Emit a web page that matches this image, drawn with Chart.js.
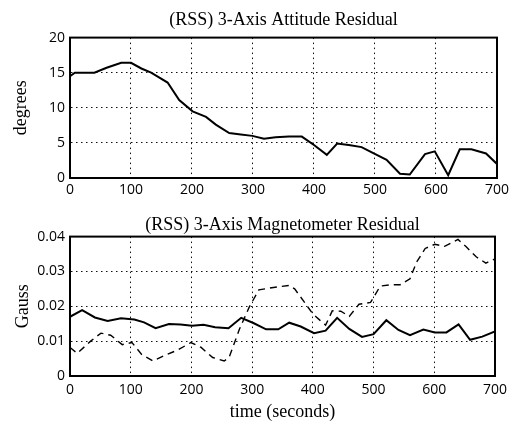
<!DOCTYPE html>
<html>
<head>
<meta charset="utf-8">
<title>RSS Residuals</title>
<script src="https://cdn.jsdelivr.net/npm/chart.js@4.4.1/dist/chart.umd.min.js"></script>
<style>
  html, body { margin: 0; padding: 0; background: #fff; }
  #wrap { position: relative; width: 513px; height: 428px; background: #fff; }
  canvas { position: absolute; left: 0; }
  #attitude { top: 0; }
  #magneto { top: 200px; }
</style>
</head>
<body>
<div id="wrap">
  <canvas id="attitude" width="513" height="200"></canvas>
  <canvas id="magneto" width="513" height="228"></canvas>
</div>
<script>
// Attitude residual (degrees) versus time (seconds)
const attitudeTime = [0, 8, 40, 60, 84, 100, 117, 133, 160, 179, 201, 223, 239, 261, 280, 299, 318, 337, 359, 380, 400, 421, 438, 457, 478, 498, 519, 541, 557, 582, 598, 620, 639, 658, 682, 700];
const attitudeDeg  = [14.5, 15.0, 15.0, 15.7, 16.4, 16.4, 15.6, 15.0, 13.6, 11.1, 9.5, 8.7, 7.6, 6.4, 6.2, 6.0, 5.6, 5.8, 5.9, 5.9, 4.7, 3.3, 4.9, 4.7, 4.4, 3.5, 2.6, 0.6, 0.5, 3.4, 3.8, 0.4, 4.1, 4.1, 3.5, 2.0];

// Magnetometer residual (Gauss), solid trace
const magSolidTime  = [0, 20, 41, 62, 84, 106, 122, 141, 163, 182, 201, 220, 239, 261, 282, 302, 323, 343, 361, 380, 402, 421, 440, 460, 481, 500, 521, 541, 560, 582, 601, 620, 640, 659, 679, 700];
const magSolidGauss = [0.0170, 0.0189, 0.0168, 0.0158, 0.0166, 0.0162, 0.0154, 0.0137, 0.0149, 0.0148, 0.0144, 0.0147, 0.0140, 0.0137, 0.0167, 0.0152, 0.0134, 0.0134, 0.0153, 0.0142, 0.0123, 0.0130, 0.0167, 0.0135, 0.0112, 0.0120, 0.0160, 0.0132, 0.0117, 0.0133, 0.0125, 0.0125, 0.0148, 0.0104, 0.0113, 0.0128];

// Magnetometer residual (Gauss), dashed trace
const magDashTime  = [0, 12, 34, 51, 67, 86, 102, 118, 137, 156, 178, 199, 216, 235, 254, 262, 279, 295, 311, 335, 361, 370, 386, 400, 411, 421, 432, 446, 460, 476, 495, 511, 530, 544, 560, 571, 585, 601, 617, 639, 653, 669, 685, 700];
const magDashGauss = [0.0082, 0.0065, 0.0100, 0.0123, 0.0117, 0.0090, 0.0096, 0.0062, 0.0043, 0.0059, 0.0075, 0.0096, 0.0082, 0.0053, 0.0043, 0.0053, 0.0134, 0.0197, 0.0247, 0.0254, 0.0260, 0.0250, 0.0212, 0.0178, 0.0161, 0.0146, 0.0187, 0.0186, 0.0171, 0.0206, 0.0211, 0.0258, 0.0262, 0.0262, 0.0279, 0.0327, 0.0366, 0.0378, 0.0372, 0.0392, 0.0370, 0.0342, 0.0324, 0.0336];

const timeTicks = [0, 100, 200, 300, 400, 500, 600, 700];
const degreeTicks = [0, 5, 10, 15, 20];
const gaussTicks = [0, 0.01, 0.02, 0.03, 0.04];

const SERIF = '"Liberation Serif", "Times New Roman", serif';
const SANS = '"Open Sans", "DejaVu Sans", sans-serif';

function pairs(xs, ys) {
  return xs.map((x, i) => ({ x: x, y: ys[i] }));
}

// Solid frame around the plotting area
const framePlugin = {
  id: 'frame',
  afterDraw(chart) {
    const a = chart.chartArea;
    const ctx = chart.ctx;
    ctx.save();
    ctx.strokeStyle = '#000';
    ctx.lineWidth = 2;
    ctx.strokeRect(a.left, a.top, a.right - a.left, a.bottom - a.top);
    ctx.restore();
  }
};

function gridOpts() {
  return { color: '#111', lineWidth: 1, drawTicks: false };
}
function borderOpts() {
  return { display: true, color: '#000', width: 2, dash: [1.5, 3.5] };
}

function xScale(tickPad, height, withTitle) {
  return {
    type: 'linear',
    min: 0, max: 700,
    afterBuildTicks(s) { s.ticks = timeTicks.map(v => ({ value: v })); },
    ticks: { color: '#000', font: { family: SANS, size: 14 }, padding: tickPad, maxRotation: 0 },
    grid: gridOpts(),
    border: borderOpts(),
    title: withTitle ? {
      display: true, text: 'time (seconds)', color: '#000',
      font: { family: SERIF, size: 18 }, padding: { top: 0, bottom: 5 }
    } : { display: false },
    afterFit(s) { s.height = height; }
  };
}

function yScale(min, max, tickList, label, titlePad, fmt) {
  return {
    type: 'linear',
    min: min, max: max,
    afterBuildTicks(s) { s.ticks = tickList.map(v => ({ value: v })); },
    ticks: { color: '#000', font: { family: SANS, size: 14 }, padding: 5, callback: fmt },
    grid: gridOpts(),
    border: borderOpts(),
    title: {
      display: true, text: label, color: '#000',
      font: { family: SERIF, size: 18 }, padding: { top: titlePad, bottom: 0 }
    },
    afterFit(s) { s.width = 70; }
  };
}

function titleOpts(text, top, bottom) {
  return {
    display: true, text: text, fullSize: false, color: '#000',
    font: { family: SERIF, size: 18, weight: 'normal' },
    padding: { top: top, bottom: bottom }
  };
}

function draw() {
  new Chart(document.getElementById('attitude'), {
    type: 'line',
    data: {
      datasets: [{
        data: pairs(attitudeTime, attitudeDeg),
        borderColor: '#000', borderWidth: 2, pointRadius: 0, tension: 0, fill: false
      }]
    },
    options: {
      responsive: false, animation: false, events: [],
      layout: { padding: { left: 0, right: 14, top: 0, bottom: 0 } },
      plugins: {
        legend: { display: false }, tooltip: { enabled: false },
        title: titleOpts('(RSS) 3-Axis Attitude Residual', 9, 7)
      },
      scales: {
        x: xScale(4, 22, false),
        y: yScale(0, 20, degreeTicks, 'degrees', 10, v => String(v))
      }
    },
    plugins: [framePlugin]
  });

  new Chart(document.getElementById('magneto'), {
    type: 'line',
    data: {
      datasets: [{
        data: pairs(magSolidTime, magSolidGauss),
        borderColor: '#000', borderWidth: 2, pointRadius: 0, tension: 0, fill: false
      }, {
        data: pairs(magDashTime, magDashGauss),
        borderColor: '#000', borderWidth: 1.4, borderDash: [7, 5], pointRadius: 0, tension: 0, fill: false
      }]
    },
    options: {
      responsive: false, animation: false, events: [],
      layout: { padding: { left: 0, right: 14, top: 0, bottom: 0 } },
      plugins: {
        legend: { display: false }, tooltip: { enabled: false },
        title: titleOpts('(RSS) 3-Axis Magnetometer Residual', 14, 1)
      },
      scales: {
        x: xScale(6, 52, true),
        y: yScale(0, 0.04, gaussTicks, 'Gauss', 12, v => (v === 0 ? '0' : v.toFixed(2)))
      }
    },
    plugins: [framePlugin]
  });
}

const fontsReady = (document.fonts && document.fonts.load)
  ? Promise.all([
      document.fonts.load('18px "Liberation Serif"'),
      document.fonts.load('14px "Open Sans"')
    ]).catch(() => null)
  : Promise.resolve();
fontsReady.then(draw);
</script>
</body>
</html>
